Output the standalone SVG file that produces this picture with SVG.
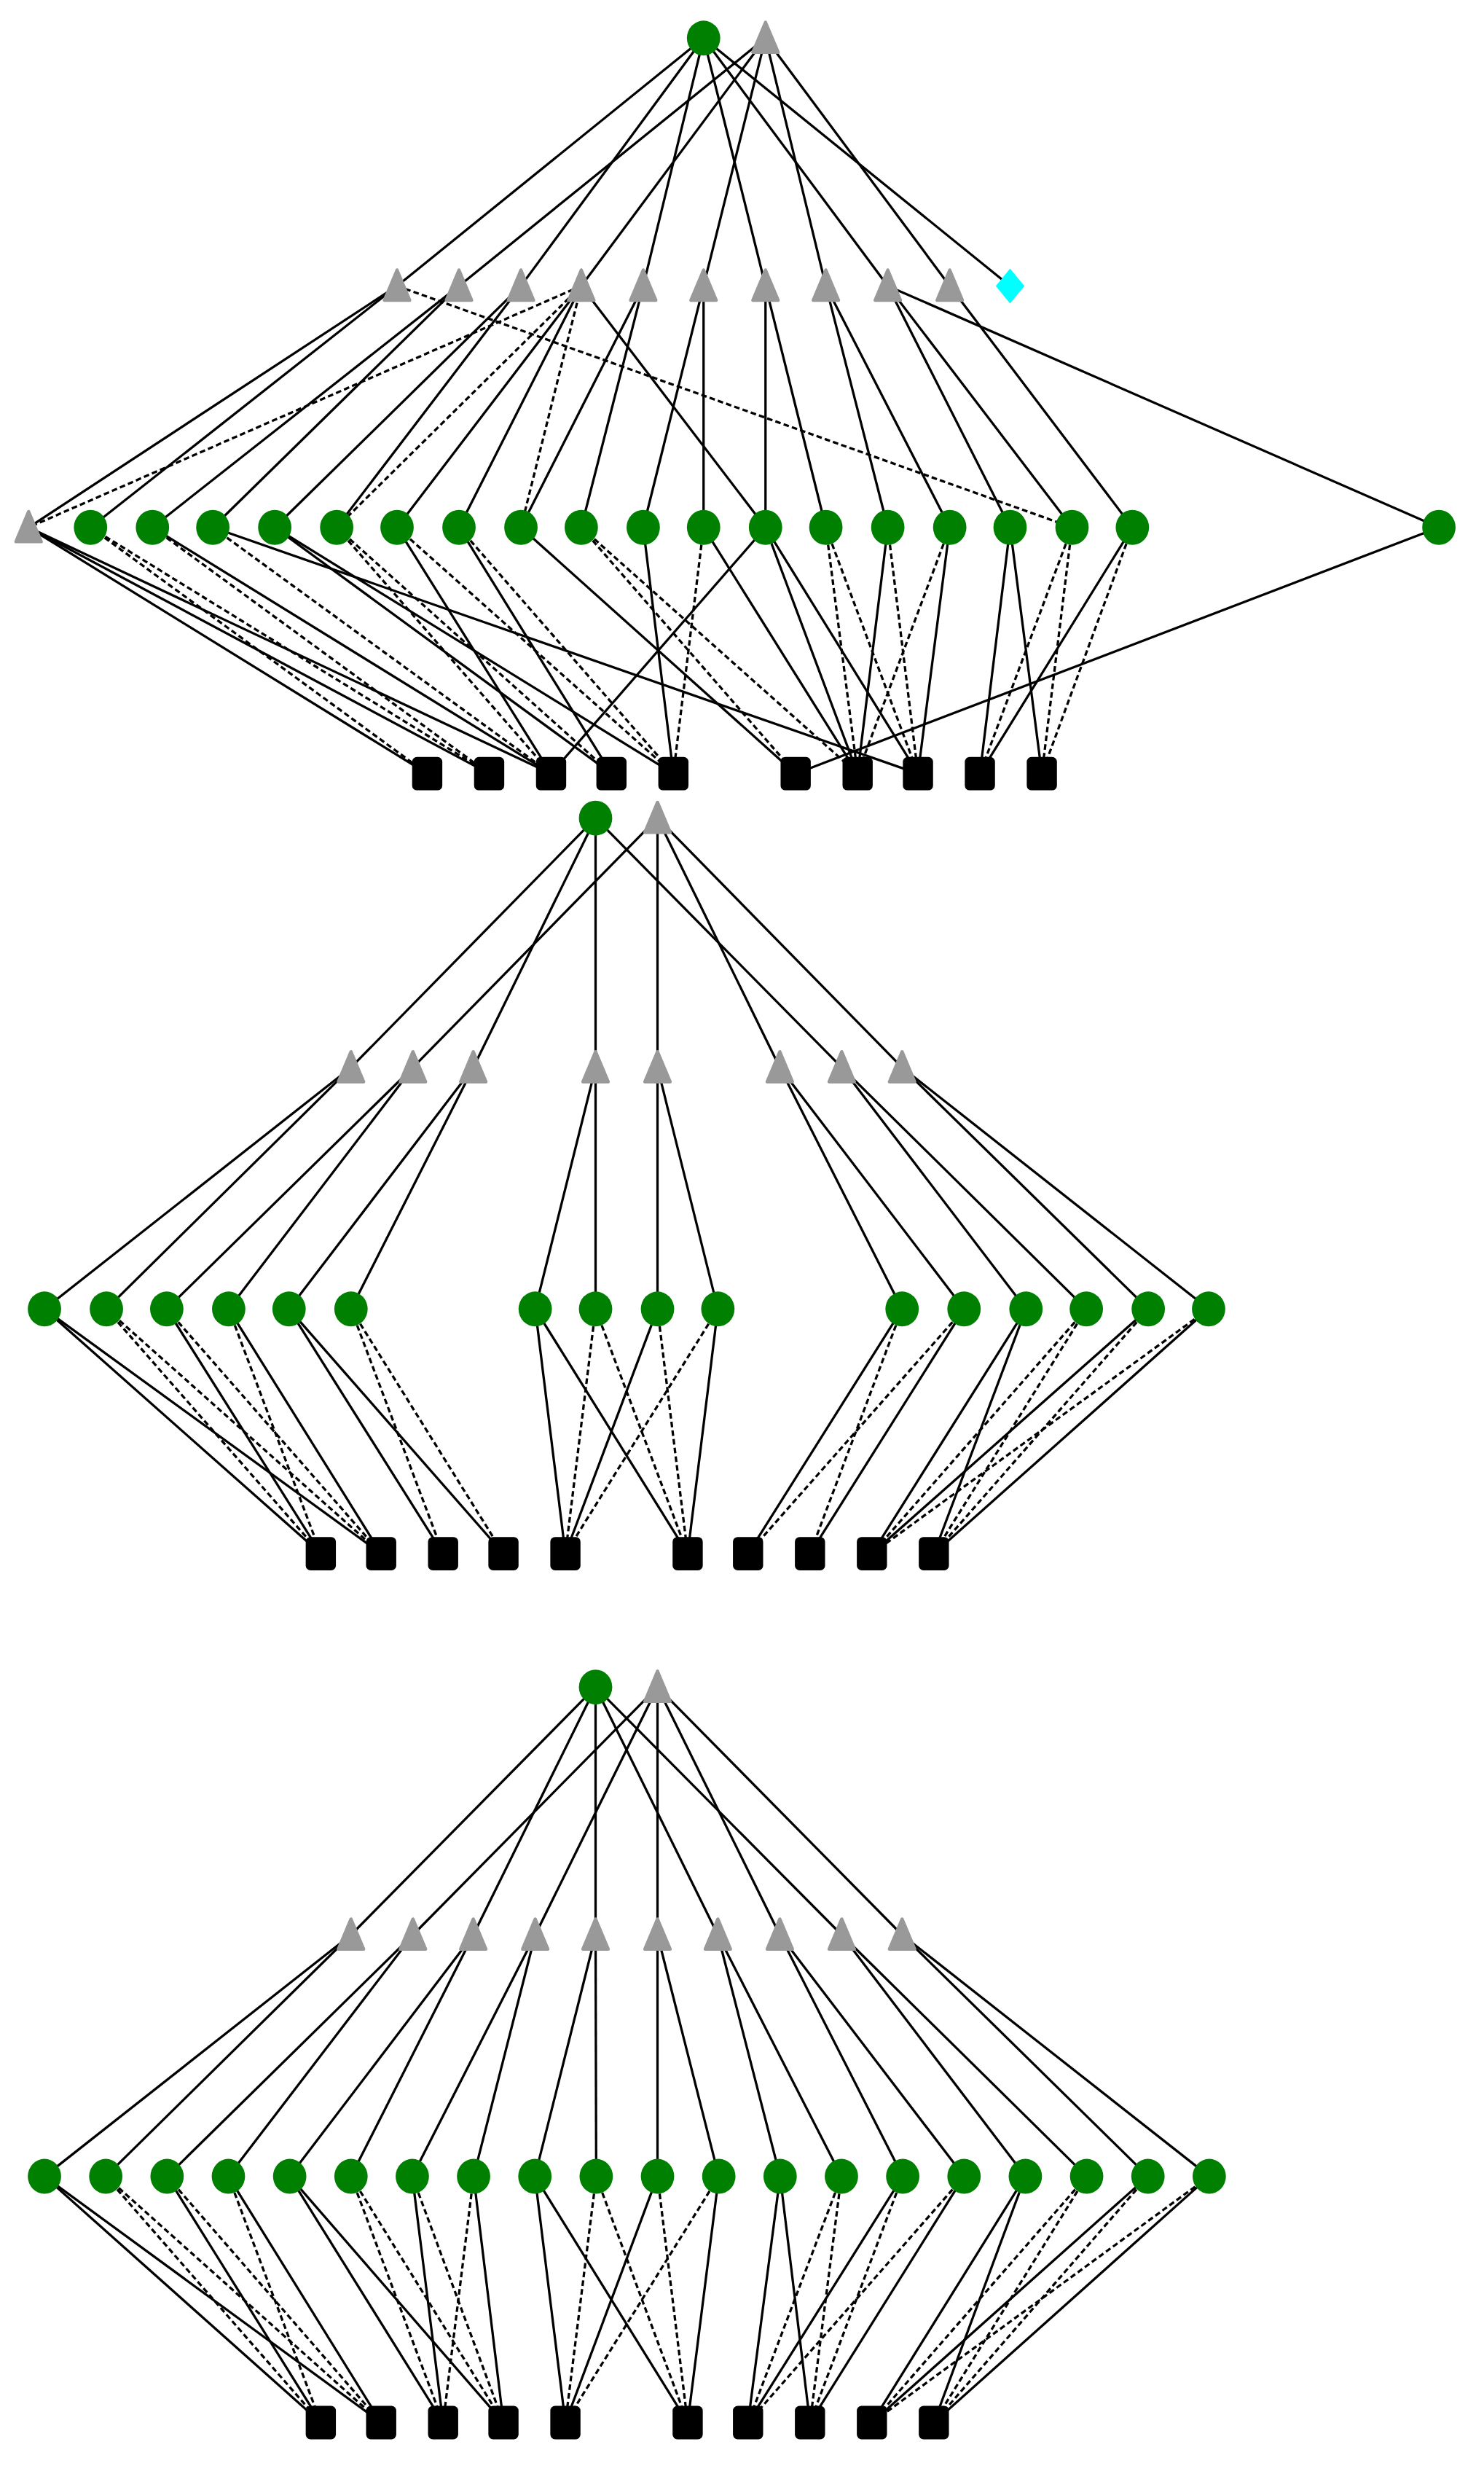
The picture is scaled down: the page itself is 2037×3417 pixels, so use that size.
<svg xmlns="http://www.w3.org/2000/svg" xmlns:xlink="http://www.w3.org/1999/xlink" width="2037" height="3417" viewBox="0 0 2037 3417">
<style>
.e line{stroke:#000;stroke-width:1.5;fill:none}
.e line.d{stroke-dasharray:3.5,2}
.g{fill:#008000}
.t{fill:#999999;stroke:#999999;stroke-width:2;stroke-linejoin:round}
.s{fill:#000}
.dm{fill:#00ffff}
</style>
<defs>
<ellipse id="cir" cx="0" cy="0" rx="10.5" ry="11" class="g"/>
<path id="tri" d="M0,-10 L-8,9 L8,9 Z" class="t"/>
<rect id="sq" x="-9.5" y="-10.5" width="19" height="21" rx="3" class="s"/>
<path id="dia" d="M0,-11 L9,0 L0,11 L-9,0 Z" class="dm"/>
</defs>
<rect width="2037" height="3417" fill="#fff"/>
<g transform="scale(2.18)">
<g id="connectors" class="e">
<!-- section 1 top -->
<line x1="443" y1="24" x2="250" y2="180"/><line x1="443" y1="24" x2="328" y2="180"/><line x1="443" y1="24" x2="405" y2="180"/><line x1="443" y1="24" x2="482" y2="180"/><line x1="443" y1="24" x2="559" y2="180"/><line x1="443" y1="24" x2="636" y2="180"/>
<line x1="482" y1="24" x2="289" y2="180"/><line x1="482" y1="24" x2="366" y2="180"/><line x1="482" y1="24" x2="443" y2="180"/><line x1="482" y1="24" x2="520" y2="180"/><line x1="482" y1="24" x2="598" y2="180"/>
<!-- section 1 L2-L3 -->
<line x1="250" y1="180" x2="18" y2="332"/><line x1="250" y1="180" x2="57" y2="332"/>
<line x1="289" y1="180" x2="96" y2="332"/><line x1="289" y1="180" x2="134" y2="332"/>
<line x1="328" y1="180" x2="173" y2="332"/><line x1="328" y1="180" x2="212" y2="332"/>
<line x1="366" y1="180" x2="250" y2="332"/><line x1="366" y1="180" x2="289" y2="332"/><line x1="366" y1="180" x2="482" y2="332"/>
<line x1="405" y1="180" x2="328" y2="332"/><line x1="405" y1="180" x2="366" y2="332"/>
<line x1="443" y1="180" x2="405" y2="332"/><line x1="443" y1="180" x2="443" y2="332"/>
<line x1="482" y1="180" x2="482" y2="332"/><line x1="482" y1="180" x2="520" y2="332"/>
<line x1="520" y1="180" x2="559" y2="332"/><line x1="520" y1="180" x2="598" y2="332"/>
<line x1="559" y1="180" x2="636" y2="332"/><line x1="559" y1="180" x2="675" y2="332"/><line x1="559" y1="180" x2="906" y2="332"/>
<line x1="598" y1="180" x2="713" y2="332"/>
<line class="d" x1="250" y1="180" x2="675" y2="332"/>
<line class="d" x1="366" y1="180" x2="18" y2="332"/><line class="d" x1="366" y1="180" x2="212" y2="332"/><line class="d" x1="366" y1="180" x2="328" y2="332"/>
<!-- section 1 L3-L4 -->
<line x1="18" y1="332" x2="269" y2="487"/><line x1="18" y1="332" x2="308" y2="487"/><line x1="18" y1="332" x2="347" y2="487"/>
<line x1="96" y1="332" x2="347" y2="487"/><line x1="134" y1="332" x2="578" y2="487"/>
<line x1="173" y1="332" x2="385" y2="487"/><line x1="173" y1="332" x2="424" y2="487"/>
<line x1="250" y1="332" x2="347" y2="487"/><line x1="289" y1="332" x2="385" y2="487"/>
<line x1="328" y1="332" x2="501" y2="487"/><line x1="405" y1="332" x2="424" y2="487"/>
<line x1="443" y1="332" x2="540" y2="487"/>
<line x1="482" y1="332" x2="347" y2="487"/><line x1="482" y1="332" x2="540" y2="487"/><line x1="482" y1="332" x2="578" y2="487"/>
<line x1="559" y1="332" x2="540" y2="487"/><line x1="598" y1="332" x2="578" y2="487"/>
<line x1="636" y1="332" x2="617" y2="487"/><line x1="636" y1="332" x2="656" y2="487"/>
<line x1="713" y1="332" x2="617" y2="487"/><line x1="906" y1="332" x2="501" y2="487"/>
<line class="d" x1="57" y1="332" x2="269" y2="487"/><line class="d" x1="57" y1="332" x2="308" y2="487"/>
<line class="d" x1="96" y1="332" x2="308" y2="487"/><line class="d" x1="134" y1="332" x2="347" y2="487"/>
<line class="d" x1="212" y1="332" x2="347" y2="487"/><line class="d" x1="212" y1="332" x2="385" y2="487"/>
<line class="d" x1="250" y1="332" x2="424" y2="487"/><line class="d" x1="289" y1="332" x2="424" y2="487"/>
<line class="d" x1="366" y1="332" x2="501" y2="487"/><line class="d" x1="366" y1="332" x2="540" y2="487"/>
<line class="d" x1="443" y1="332" x2="424" y2="487"/>
<line class="d" x1="520" y1="332" x2="540" y2="487"/><line class="d" x1="520" y1="332" x2="578" y2="487"/>
<line class="d" x1="559" y1="332" x2="578" y2="487"/><line class="d" x1="598" y1="332" x2="540" y2="487"/>
<line class="d" x1="675" y1="332" x2="617" y2="487"/><line class="d" x1="675" y1="332" x2="656" y2="487"/>
<line class="d" x1="713" y1="332" x2="656" y2="487"/>
<!-- section 2 top -->
<line x1="375" y1="515" x2="221" y2="672"/><line x1="375" y1="515" x2="298" y2="672"/><line x1="375" y1="515" x2="375" y2="672"/><line x1="375" y1="515" x2="530" y2="672"/>
<line x1="414" y1="515" x2="260" y2="672"/><line x1="414" y1="515" x2="414" y2="672"/><line x1="414" y1="515" x2="491" y2="672"/><line x1="414" y1="515" x2="568" y2="672"/>
<!-- section 2 L2-L3 -->
<line x1="221" y1="672" x2="28" y2="824"/><line x1="221" y1="672" x2="67" y2="824"/>
<line x1="260" y1="672" x2="105" y2="824"/><line x1="260" y1="672" x2="144" y2="824"/>
<line x1="298" y1="672" x2="182" y2="824"/><line x1="298" y1="672" x2="221" y2="824"/>
<line x1="375" y1="672" x2="337" y2="824"/><line x1="375" y1="672" x2="375" y2="824"/>
<line x1="414" y1="672" x2="414" y2="824"/><line x1="414" y1="672" x2="452" y2="824"/>
<line x1="491" y1="672" x2="568" y2="824"/><line x1="491" y1="672" x2="607" y2="824"/>
<line x1="530" y1="672" x2="646" y2="824"/><line x1="530" y1="672" x2="684" y2="824"/>
<line x1="568" y1="672" x2="723" y2="824"/><line x1="568" y1="672" x2="761" y2="824"/>
<!-- section 2 L3-L4 -->
<line x1="28" y1="824" x2="202" y2="978"/><line x1="28" y1="824" x2="240" y2="978"/>
<line class="d" x1="67" y1="824" x2="202" y2="978"/><line class="d" x1="67" y1="824" x2="240" y2="978"/>
<line x1="105" y1="824" x2="202" y2="978"/><line class="d" x1="105" y1="824" x2="240" y2="978"/>
<line class="d" x1="144" y1="824" x2="202" y2="978"/><line x1="144" y1="824" x2="240" y2="978"/>
<line x1="182" y1="824" x2="279" y2="978"/><line x1="182" y1="824" x2="317" y2="978"/>
<line class="d" x1="221" y1="824" x2="279" y2="978"/><line class="d" x1="221" y1="824" x2="317" y2="978"/>
<line x1="337" y1="824" x2="356" y2="978"/><line x1="337" y1="824" x2="433" y2="978"/>
<line class="d" x1="375" y1="824" x2="356" y2="978"/><line class="d" x1="375" y1="824" x2="433" y2="978"/>
<line x1="414" y1="824" x2="356" y2="978"/><line class="d" x1="414" y1="824" x2="433" y2="978"/>
<line class="d" x1="452" y1="824" x2="356" y2="978"/><line x1="452" y1="824" x2="433" y2="978"/>
<line x1="568" y1="824" x2="471" y2="978"/><line class="d" x1="568" y1="824" x2="510" y2="978"/>
<line class="d" x1="607" y1="824" x2="471" y2="978"/><line x1="607" y1="824" x2="510" y2="978"/>
<line x1="646" y1="824" x2="549" y2="978"/><line x1="646" y1="824" x2="588" y2="978"/>
<line class="d" x1="684" y1="824" x2="549" y2="978"/><line class="d" x1="684" y1="824" x2="588" y2="978"/>
<line x1="723" y1="824" x2="549" y2="978"/><line class="d" x1="723" y1="824" x2="588" y2="978"/>
<line class="d" x1="761" y1="824" x2="549" y2="978"/><line x1="761" y1="824" x2="588" y2="978"/>
<!-- section 3 top -->
<line x1="375" y1="1062" x2="221" y2="1218"/><line x1="375" y1="1062" x2="298" y2="1218"/><line x1="375" y1="1062" x2="375" y2="1218"/><line x1="375" y1="1062" x2="452" y2="1218"/><line x1="375" y1="1062" x2="530" y2="1218"/>
<line x1="414" y1="1062" x2="260" y2="1218"/><line x1="414" y1="1062" x2="337" y2="1218"/><line x1="414" y1="1062" x2="414" y2="1218"/><line x1="414" y1="1062" x2="491" y2="1218"/><line x1="414" y1="1062" x2="568" y2="1218"/>
<!-- section 3 L2-L3 -->
<line x1="221" y1="1218" x2="28" y2="1370"/><line x1="221" y1="1218" x2="66.6" y2="1370"/>
<line x1="260" y1="1218" x2="105.2" y2="1370"/><line x1="260" y1="1218" x2="143.8" y2="1370"/>
<line x1="298" y1="1218" x2="182.4" y2="1370"/><line x1="298" y1="1218" x2="221" y2="1370"/>
<line x1="337" y1="1218" x2="259.6" y2="1370"/><line x1="337" y1="1218" x2="298.2" y2="1370"/>
<line x1="375" y1="1218" x2="336.8" y2="1370"/><line x1="375" y1="1218" x2="375.4" y2="1370"/>
<line x1="414" y1="1218" x2="414" y2="1370"/><line x1="414" y1="1218" x2="452.6" y2="1370"/>
<line x1="452" y1="1218" x2="491.2" y2="1370"/><line x1="452" y1="1218" x2="529.8" y2="1370"/>
<line x1="491" y1="1218" x2="568.4" y2="1370"/><line x1="491" y1="1218" x2="607" y2="1370"/>
<line x1="530" y1="1218" x2="645.6" y2="1370"/><line x1="530" y1="1218" x2="684.2" y2="1370"/>
<line x1="568" y1="1218" x2="722.8" y2="1370"/><line x1="568" y1="1218" x2="761.4" y2="1370"/>
<!-- section 3 L3-L4 -->
<line x1="28" y1="1370" x2="202" y2="1525"/><line x1="28" y1="1370" x2="240" y2="1525"/>
<line class="d" x1="66.6" y1="1370" x2="202" y2="1525"/><line class="d" x1="66.6" y1="1370" x2="240" y2="1525"/>
<line x1="105.2" y1="1370" x2="202" y2="1525"/><line class="d" x1="105.2" y1="1370" x2="240" y2="1525"/>
<line class="d" x1="143.8" y1="1370" x2="202" y2="1525"/><line x1="143.8" y1="1370" x2="240" y2="1525"/>
<line x1="182.4" y1="1370" x2="279" y2="1525"/><line x1="182.4" y1="1370" x2="317" y2="1525"/>
<line class="d" x1="221" y1="1370" x2="279" y2="1525"/><line class="d" x1="221" y1="1370" x2="317" y2="1525"/>
<line x1="259.6" y1="1370" x2="279" y2="1525"/><line class="d" x1="259.6" y1="1370" x2="317" y2="1525"/>
<line class="d" x1="298.2" y1="1370" x2="279" y2="1525"/><line x1="298.2" y1="1370" x2="317" y2="1525"/>
<line x1="336.8" y1="1370" x2="356" y2="1525"/><line x1="336.8" y1="1370" x2="433" y2="1525"/>
<line class="d" x1="375.4" y1="1370" x2="356" y2="1525"/><line class="d" x1="375.4" y1="1370" x2="433" y2="1525"/>
<line x1="414" y1="1370" x2="356" y2="1525"/><line class="d" x1="414" y1="1370" x2="433" y2="1525"/>
<line class="d" x1="452.6" y1="1370" x2="356" y2="1525"/><line x1="452.6" y1="1370" x2="433" y2="1525"/>
<line x1="491.2" y1="1370" x2="471" y2="1525"/><line x1="491.2" y1="1370" x2="510" y2="1525"/>
<line class="d" x1="529.8" y1="1370" x2="471" y2="1525"/><line class="d" x1="529.8" y1="1370" x2="510" y2="1525"/>
<line x1="568.4" y1="1370" x2="471" y2="1525"/><line class="d" x1="568.4" y1="1370" x2="510" y2="1525"/>
<line class="d" x1="607" y1="1370" x2="471" y2="1525"/><line x1="607" y1="1370" x2="510" y2="1525"/>
<line x1="645.6" y1="1370" x2="549" y2="1525"/><line x1="645.6" y1="1370" x2="588" y2="1525"/>
<line class="d" x1="684.2" y1="1370" x2="549" y2="1525"/><line class="d" x1="684.2" y1="1370" x2="588" y2="1525"/>
<line x1="722.8" y1="1370" x2="549" y2="1525"/><line class="d" x1="722.8" y1="1370" x2="588" y2="1525"/>
<line class="d" x1="761.4" y1="1370" x2="549" y2="1525"/><line x1="761.4" y1="1370" x2="588" y2="1525"/>
</g>
<g id="nodes">
<g id="a_top_c"><use href="#cir" x="443" y="24"/></g>
<g id="a_top_t"><use href="#tri" x="482" y="24"/></g>
<g id="a_t0"><use href="#tri" x="250" y="180"/></g>
<g id="a_t1"><use href="#tri" x="289" y="180"/></g>
<g id="a_t2"><use href="#tri" x="328" y="180"/></g>
<g id="a_t3"><use href="#tri" x="366" y="180"/></g>
<g id="a_t4"><use href="#tri" x="405" y="180"/></g>
<g id="a_t5"><use href="#tri" x="443" y="180"/></g>
<g id="a_t6"><use href="#tri" x="482" y="180"/></g>
<g id="a_t7"><use href="#tri" x="520" y="180"/></g>
<g id="a_t8"><use href="#tri" x="559" y="180"/></g>
<g id="a_t9"><use href="#tri" x="598" y="180"/></g>
<g id="a_d"><use href="#dia" x="636" y="180"/></g>
<g id="a_L"><use href="#tri" x="18" y="332"/></g>
<g id="a_g1"><use href="#cir" x="57" y="332"/></g>
<g id="a_g2"><use href="#cir" x="96" y="332"/></g>
<g id="a_g3"><use href="#cir" x="134" y="332"/></g>
<g id="a_g4"><use href="#cir" x="173" y="332"/></g>
<g id="a_g5"><use href="#cir" x="212" y="332"/></g>
<g id="a_g6"><use href="#cir" x="250" y="332"/></g>
<g id="a_g7"><use href="#cir" x="289" y="332"/></g>
<g id="a_g8"><use href="#cir" x="328" y="332"/></g>
<g id="a_g9"><use href="#cir" x="366" y="332"/></g>
<g id="a_g10"><use href="#cir" x="405" y="332"/></g>
<g id="a_g11"><use href="#cir" x="443" y="332"/></g>
<g id="a_g12"><use href="#cir" x="482" y="332"/></g>
<g id="a_g13"><use href="#cir" x="520" y="332"/></g>
<g id="a_g14"><use href="#cir" x="559" y="332"/></g>
<g id="a_g15"><use href="#cir" x="598" y="332"/></g>
<g id="a_g16"><use href="#cir" x="636" y="332"/></g>
<g id="a_g17"><use href="#cir" x="675" y="332"/></g>
<g id="a_g18"><use href="#cir" x="713" y="332"/></g>
<g id="a_R"><use href="#cir" x="906" y="332"/></g>
<g id="a_s0"><use href="#sq" x="269" y="487"/></g>
<g id="a_s1"><use href="#sq" x="308" y="487"/></g>
<g id="a_s2"><use href="#sq" x="347" y="487"/></g>
<g id="a_s3"><use href="#sq" x="385" y="487"/></g>
<g id="a_s4"><use href="#sq" x="424" y="487"/></g>
<g id="a_s5"><use href="#sq" x="501" y="487"/></g>
<g id="a_s6"><use href="#sq" x="540" y="487"/></g>
<g id="a_s7"><use href="#sq" x="578" y="487"/></g>
<g id="a_s8"><use href="#sq" x="617" y="487"/></g>
<g id="a_s9"><use href="#sq" x="656" y="487"/></g>
<g id="b_top_c"><use href="#cir" x="375" y="515"/></g>
<g id="b_top_t"><use href="#tri" x="414" y="515"/></g>
<g id="b_t0"><use href="#tri" x="221" y="672"/></g>
<g id="b_t1"><use href="#tri" x="260" y="672"/></g>
<g id="b_t2"><use href="#tri" x="298" y="672"/></g>
<g id="b_t3"><use href="#tri" x="375" y="672"/></g>
<g id="b_t4"><use href="#tri" x="414" y="672"/></g>
<g id="b_t5"><use href="#tri" x="491" y="672"/></g>
<g id="b_t6"><use href="#tri" x="530" y="672"/></g>
<g id="b_t7"><use href="#tri" x="568" y="672"/></g>
<g id="b_c0"><use href="#cir" x="28" y="824"/></g>
<g id="b_c1"><use href="#cir" x="67" y="824"/></g>
<g id="b_c2"><use href="#cir" x="105" y="824"/></g>
<g id="b_c3"><use href="#cir" x="144" y="824"/></g>
<g id="b_c4"><use href="#cir" x="182" y="824"/></g>
<g id="b_c5"><use href="#cir" x="221" y="824"/></g>
<g id="b_c6"><use href="#cir" x="337" y="824"/></g>
<g id="b_c7"><use href="#cir" x="375" y="824"/></g>
<g id="b_c8"><use href="#cir" x="414" y="824"/></g>
<g id="b_c9"><use href="#cir" x="452" y="824"/></g>
<g id="b_c10"><use href="#cir" x="568" y="824"/></g>
<g id="b_c11"><use href="#cir" x="607" y="824"/></g>
<g id="b_c12"><use href="#cir" x="646" y="824"/></g>
<g id="b_c13"><use href="#cir" x="684" y="824"/></g>
<g id="b_c14"><use href="#cir" x="723" y="824"/></g>
<g id="b_c15"><use href="#cir" x="761" y="824"/></g>
<g id="b_s0"><use href="#sq" x="202" y="978"/></g>
<g id="b_s1"><use href="#sq" x="240" y="978"/></g>
<g id="b_s2"><use href="#sq" x="279" y="978"/></g>
<g id="b_s3"><use href="#sq" x="317" y="978"/></g>
<g id="b_s4"><use href="#sq" x="356" y="978"/></g>
<g id="b_s5"><use href="#sq" x="433" y="978"/></g>
<g id="b_s6"><use href="#sq" x="471" y="978"/></g>
<g id="b_s7"><use href="#sq" x="510" y="978"/></g>
<g id="b_s8"><use href="#sq" x="549" y="978"/></g>
<g id="b_s9"><use href="#sq" x="588" y="978"/></g>
<g id="c_top_c"><use href="#cir" x="375" y="1062"/></g>
<g id="c_top_t"><use href="#tri" x="414" y="1062"/></g>
<g id="c_t0"><use href="#tri" x="221" y="1218"/></g>
<g id="c_t1"><use href="#tri" x="260" y="1218"/></g>
<g id="c_t2"><use href="#tri" x="298" y="1218"/></g>
<g id="c_t3"><use href="#tri" x="337" y="1218"/></g>
<g id="c_t4"><use href="#tri" x="375" y="1218"/></g>
<g id="c_t5"><use href="#tri" x="414" y="1218"/></g>
<g id="c_t6"><use href="#tri" x="452" y="1218"/></g>
<g id="c_t7"><use href="#tri" x="491" y="1218"/></g>
<g id="c_t8"><use href="#tri" x="530" y="1218"/></g>
<g id="c_t9"><use href="#tri" x="568" y="1218"/></g>
<g id="c_c0"><use href="#cir" x="28" y="1370"/></g>
<g id="c_c1"><use href="#cir" x="66.6" y="1370"/></g>
<g id="c_c2"><use href="#cir" x="105.2" y="1370"/></g>
<g id="c_c3"><use href="#cir" x="143.8" y="1370"/></g>
<g id="c_c4"><use href="#cir" x="182.4" y="1370"/></g>
<g id="c_c5"><use href="#cir" x="221" y="1370"/></g>
<g id="c_c6"><use href="#cir" x="259.6" y="1370"/></g>
<g id="c_c7"><use href="#cir" x="298.2" y="1370"/></g>
<g id="c_c8"><use href="#cir" x="336.8" y="1370"/></g>
<g id="c_c9"><use href="#cir" x="375.4" y="1370"/></g>
<g id="c_c10"><use href="#cir" x="414" y="1370"/></g>
<g id="c_c11"><use href="#cir" x="452.6" y="1370"/></g>
<g id="c_c12"><use href="#cir" x="491.2" y="1370"/></g>
<g id="c_c13"><use href="#cir" x="529.8" y="1370"/></g>
<g id="c_c14"><use href="#cir" x="568.4" y="1370"/></g>
<g id="c_c15"><use href="#cir" x="607" y="1370"/></g>
<g id="c_c16"><use href="#cir" x="645.6" y="1370"/></g>
<g id="c_c17"><use href="#cir" x="684.2" y="1370"/></g>
<g id="c_c18"><use href="#cir" x="722.8" y="1370"/></g>
<g id="c_c19"><use href="#cir" x="761.4" y="1370"/></g>
<g id="c_s0"><use href="#sq" x="202" y="1525"/></g>
<g id="c_s1"><use href="#sq" x="240" y="1525"/></g>
<g id="c_s2"><use href="#sq" x="279" y="1525"/></g>
<g id="c_s3"><use href="#sq" x="317" y="1525"/></g>
<g id="c_s4"><use href="#sq" x="356" y="1525"/></g>
<g id="c_s5"><use href="#sq" x="433" y="1525"/></g>
<g id="c_s6"><use href="#sq" x="471" y="1525"/></g>
<g id="c_s7"><use href="#sq" x="510" y="1525"/></g>
<g id="c_s8"><use href="#sq" x="549" y="1525"/></g>
<g id="c_s9"><use href="#sq" x="588" y="1525"/></g>
</g>
</g>
</svg>
